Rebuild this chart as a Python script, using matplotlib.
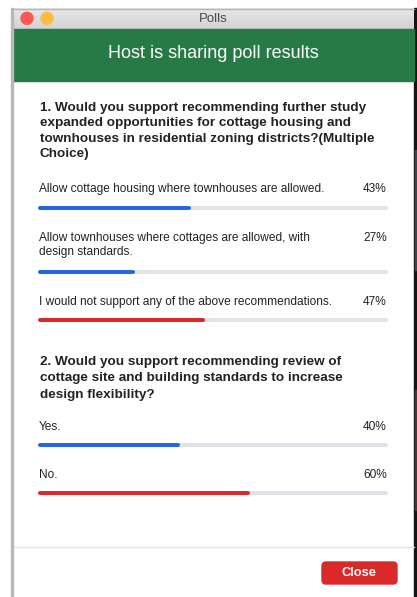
import matplotlib.pyplot as plt
from matplotlib.patches import FancyBboxPatch, Rectangle, Circle
import numpy as np

W, H = 417, 597

window_title = 'Polls'
header = 'Host is sharing poll results'

q1_lines = ['1. Would you support recommending further study',
            'expanded opportunities for cottage housing and',
            'townhouses in residential zoning districts?(Multiple',
            'Choice)']
q1_options = [['Allow cottage housing where townhouses are allowed.'],
              ['Allow townhouses where cottages are allowed, with', 'design standards.'],
              ['I would not support any of the above recommendations.']]
q1_pct = [43, 27, 47]

q2_lines = ['2. Would you support recommending review of',
            'cottage site and building standards to increase',
            'design flexibility?']
q2_options = [['Yes.'], ['No.']]
q2_pct = [40, 60]

BLUE = '#2268e0'
RED = '#d9292b'
TRACK = '#e1e1e8'
GREEN = '#277a45'
TXT = '#222222'

plt.rcParams['font.family'] = ['Liberation Sans', 'DejaVu Sans']

fig = plt.figure(figsize=(W / 100, H / 100), dpi=100)
ax = fig.add_axes([0, 0, 1, 1])
ax.set_xlim(0, W)
ax.set_ylim(H, 0)
ax.axis('off')

# window chrome
ax.add_patch(Rectangle((414, 8), 3, H - 8, color='#151515', zorder=1))
ax.add_patch(Rectangle((415, 150), 2, 120, color='#3a4650', zorder=1))
ax.add_patch(Rectangle((415, 390), 2, 120, color='#4a3434', zorder=1))
grad = np.linspace(0, 1, 30).reshape(-1, 1)
ax.imshow(grad, extent=(12, 414, 29, 8), cmap=plt.cm.colors.LinearSegmentedColormap.from_list(
    'tb', ['#e8e8e8', '#d2d2d2']), aspect='auto', zorder=2)
ax.plot([12, 414], [8.5, 8.5], color='#b5b5b5', lw=1, zorder=3)
ax.add_patch(Rectangle((11, 8), 2, H - 8, color='#b8b8b8', zorder=3))
ax.add_patch(Circle((27, 18.3), 6, color='#fc5753', zorder=3))
ax.add_patch(Circle((47, 18.3), 6, color='#fdbc40', zorder=3))
ax.text(213, 18.5, window_title, ha='center', va='center', fontsize=9.5, color='#4a4a4a', zorder=3)

ax.add_patch(Rectangle((13, 29), 401, 52, color=GREEN, zorder=2))
ax.text(213, 54, header, ha='center', va='center', fontsize=13, color='white', zorder=3)

# bar axes in percent units
bx0, bx1 = 38, 388
pad = 2 / (bx1 - bx0) * 100
bax = fig.add_axes([bx0 / W, 0, (bx1 - bx0) / W, 1])
bax.set_xlim(-pad, 100 + pad)
bax.set_ylim(H, 0)
bax.axis('off')
bar_lw = 4 * 72 / 100


def draw_question(lines, y_top, step, options, pcts, opt_y, bar_y):
    for i, line in enumerate(lines):
        ax.text(40, y_top + i * step, line, fontsize=9.7, fontweight='bold', color=TXT, va='center')
    top = max(pcts)
    for opt, p, oy, by in zip(options, pcts, opt_y, bar_y):
        for j, line in enumerate(opt):
            ax.text(39, oy + j * 14, line, fontsize=8.55, color=TXT, va='center')
        ax.text(387, oy, '%d%%' % p, fontsize=8.55, color=TXT, va='center', ha='right')
        bax.plot([0, 100], [by, by], color=TRACK, lw=bar_lw, solid_capstyle='round')
        bax.plot([0, p], [by, by], color=RED if p == top else BLUE, lw=bar_lw,
                 solid_capstyle='round')


draw_question(q1_lines, 108, 15.3, q1_options, q1_pct, [189, 238, 302], [208, 272, 319.5])
draw_question(q2_lines, 362, 16.5, q2_options, q2_pct, [427, 475], [445, 493])

# footer
ax.plot([13, 414], [547, 547], color='#e3e3ea', lw=1)
ax.add_patch(FancyBboxPatch((322, 562), 75, 22, boxstyle='round,pad=0,rounding_size=4',
                            color=RED, zorder=3))
ax.text(359.5, 573.5, 'Close', ha='center', va='center', fontsize=9.3, fontweight='bold',
        color='white', zorder=4)

fig.savefig('out.png', dpi=100)
